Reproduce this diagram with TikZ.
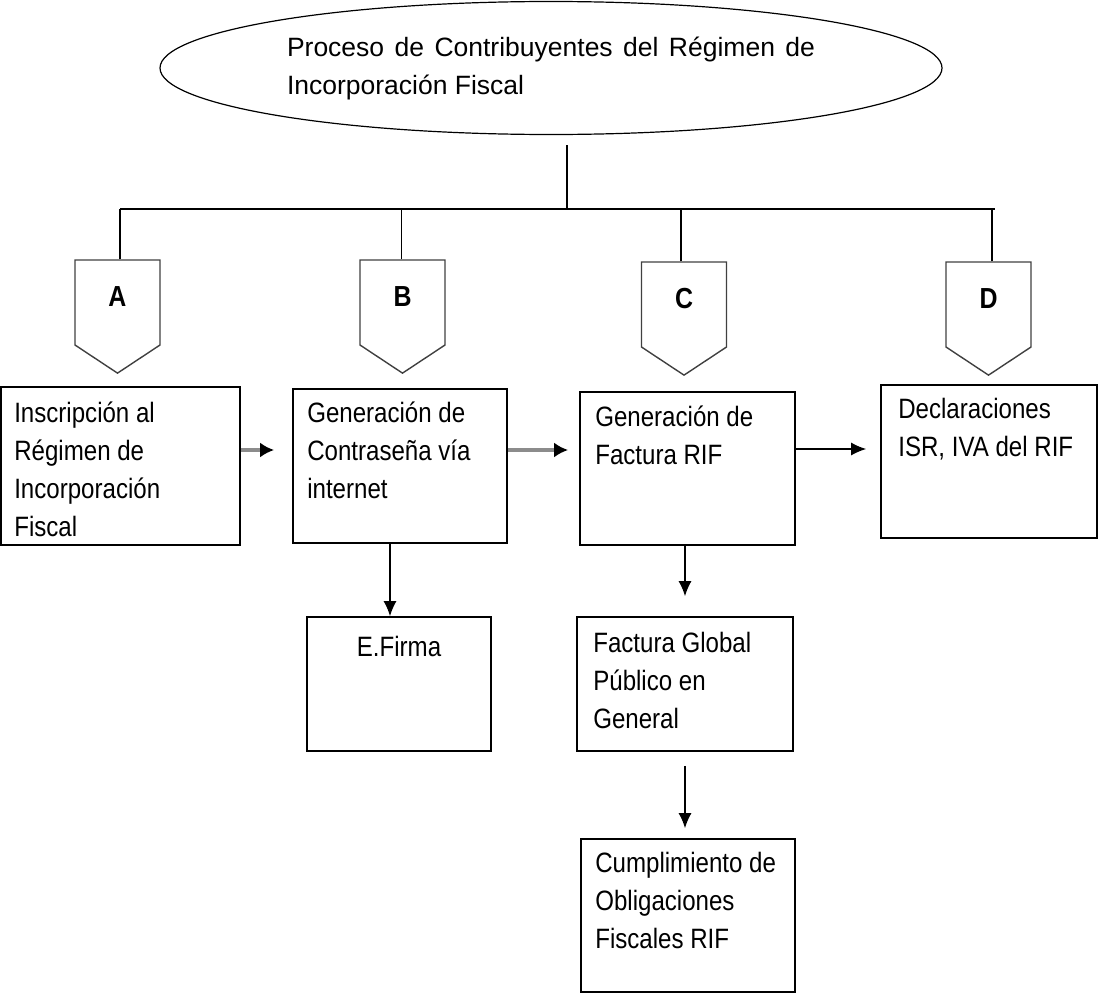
\documentclass[tikz,border=0pt]{standalone}
\usepackage{fontspec}
\setmainfont{Liberation Sans}
\newfontfamily\narrowfont[FakeStretch=0.86]{Liberation Sans}
\usetikzlibrary{positioning,shapes.geometric,shapes.symbols,arrows.meta}

\begin{document}
\begin{tikzpicture}[x=1pt, y=-1pt,
  title/.style = {draw, ellipse, line width=1.2pt, minimum width=782pt, minimum height=133pt, align=left, font=\fontsize{26.5}{38}\selectfont},
  tag/.style = {draw=black!75, line width=1.4pt, signal, signal to=south, signal pointer angle=113, minimum width=85pt, minimum height=85pt, inner sep=0pt},
  letter/.style = {font=\narrowfont\bfseries\fontsize{29}{30}\selectfont, inner sep=0pt},
  stepbox/.style = {draw, line width=1.8pt, inner sep=0pt},
  boxtext/.style = {font=\narrowfont\fontsize{28}{38}\selectfont, align=left, inner sep=0pt},
  link/.style = {line width=1.2pt},
  flow/.style = {line width=1.2pt, -{Latex[length=15pt,width=13pt]}},
  grayflow/.style = {draw=black!45, line width=3.5pt, -{Latex[length=14pt,width=15pt,fill=black,color=black]}}]
\useasboundingbox (0,0) rectangle (1099,993);

\node[title] (proc) at (551,68) {\makebox[528pt][s]{Proceso de Contribuyentes del Régimen de}\\Incorporación Fiscal};

% ramas
\coordinate (busL) at (120,209);
\coordinate (busR) at (995,209);
\draw[link] (proc.south -| 567,0) ++(0,10) -- (567,209);
\draw[line width=1.8pt] (busL) -- (busR);

\node[tag] (tA) at (117.5,302.5) {};
\node[tag] (tB) at (402.5,302.5) {};
\node[tag] (tC) at (684,304.5) {};
\node[tag] (tD) at (988.5,304.5) {};
\node[letter, below=27pt of tA.north] {A};
\node[letter, below=27pt of tB.north] {B};
\node[letter, below=27pt of tC.north] {C};
\node[letter, below=27pt of tD.north] {D};

\draw[link] (tA.north -| busL) -- (busL);
\draw[link] (tB.north -| 401.5,0) -- (401.5,209);
\draw[link] (tC.north -| 681,0) -- (681,209);
\draw[link] (tD.north -| 992,0) -- (992,209);

% cajas
\node[stepbox, minimum width=239pt, minimum height=158pt] (insc) at (120.5,466) {};
\node[stepbox, minimum width=214pt, minimum height=154pt] (pass) at (400,466) {};
\node[stepbox, minimum width=215pt, minimum height=153pt] (fact) at (687.5,468.5) {};
\node[stepbox, minimum width=216pt, minimum height=153pt] (decl) at (989,461.5) {};
\node[stepbox, minimum width=184pt, minimum height=134pt] (firma) at (399,684) {};
\node[stepbox, minimum width=216pt, minimum height=134pt] (glob) at (685,684) {};
\node[stepbox, minimum width=214pt, minimum height=153pt] (cumpl) at (688,915.5) {};

\node[boxtext, below right=16pt and 14pt of insc.north west, anchor=north west] {Inscripción al\\Régimen de\\Incorporación\\Fiscal};
\node[boxtext, below right=14pt and 15pt of pass.north west, anchor=north west] {Generación de\\Contraseña vía\\internet};
\node[boxtext, below right=15pt and 16pt of fact.north west, anchor=north west] {Generación de\\Factura RIF};
\node[boxtext, below right=14pt and 18pt of decl.north west, anchor=north west] {Declaraciones\\ISR, IVA del RIF};
\node[boxtext, below=20pt of firma.north, anchor=north] {E.Firma};
\node[boxtext, below right=16pt and 17pt of glob.north west, anchor=north west] {Factura Global\\Público en\\General};
\node[boxtext, below right=14pt and 15pt of cumpl.north west, anchor=north west] {Cumplimiento de\\Obligaciones\\Fiscales RIF};

% flechas
\draw[grayflow, shorten >=18pt] (insc.east |- 0,450) -- (pass.west |- 0,450);
\draw[grayflow, shorten >=11pt] (pass.east |- 0,450) -- (fact.west |- 0,450);
\draw[flow, shorten >=14pt] (fact.east |- 0,449) -- (decl.west |- 0,449);
\draw[flow] (pass.south -| 390,0) -- (firma.north -| 390,0);
\draw[flow, shorten >=20pt] (fact.south -| 685,0) -- (glob.north -| 685,0);
\draw[flow, shorten <=14pt, shorten >=10pt] (glob.south -| 685,0) -- (cumpl.north -| 685,0);
\end{tikzpicture}
\end{document}
